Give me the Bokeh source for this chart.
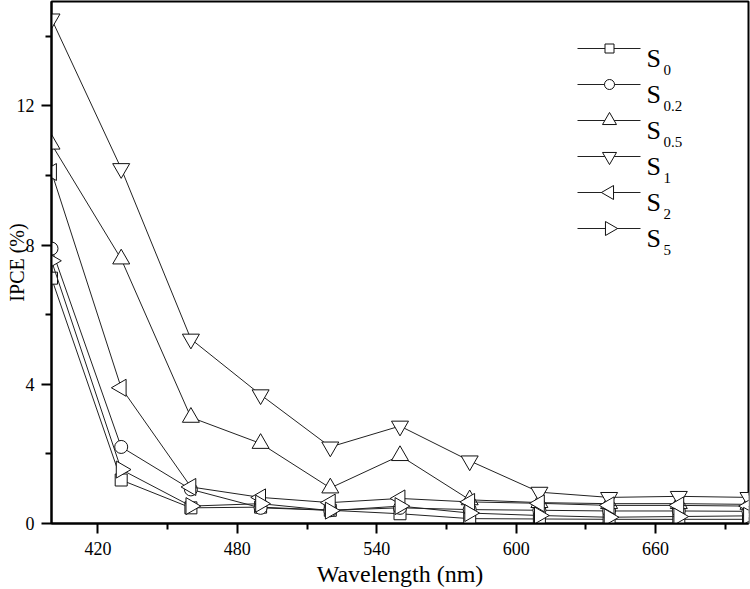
import math
from bokeh.plotting import figure
from bokeh.models import FixedTicker, Label, Range1d
from bokeh.embed import file_html
from bokeh.resources import INLINE

# ---- data ----
wavelength = [400, 430, 460, 490, 520, 550, 580, 610, 640, 670, 700]
s0   = [7.05, 1.25, 0.45, 0.47, 0.38, 0.28, 0.14, 0.13, 0.12, 0.12, 0.12]
s0_2 = [7.9, 2.2, 0.98, 0.45, 0.38, 0.45, 0.40, 0.38, 0.36, 0.36, 0.35]
s0_5 = [10.9, 7.6, 3.05, 2.3, 1.02, 1.95, 0.68, 0.60, 0.57, 0.57, 0.55]
s1   = [14.5, 10.2, 5.3, 3.7, 2.2, 2.8, 1.8, 0.90, 0.75, 0.78, 0.75]
s2   = [10.1, 3.9, 1.05, 0.75, 0.60, 0.72, 0.62, 0.58, 0.52, 0.52, 0.50]
s5   = [7.55, 1.55, 0.50, 0.57, 0.37, 0.50, 0.30, 0.23, 0.18, 0.20, 0.22]
subscripts = ["0", "0.2", "0.5", "1", "2", "5"]
series = [s0, s0_2, s0_5, s1, s2, s5]

x_ticks = [420, 480, 540, 600, 660]
x_minor = [450, 510, 570, 630, 690]
y_ticks = [0, 4, 8, 12]
y_minor = [2, 6, 10, 14]
x_title = "Wavelength (nm)"
y_title = "IPCE (%)"

FONT = "Liberation Serif"
X0, X1 = 400, 700
Y0, Y1 = 0, 15
W, H = 750, 589
ML, MR, MT, MB = 51, 2, 1, 66
FW, FH = W - ML - MR, H - MT - MB

p = figure(width=W, height=H, output_backend="svg", toolbar_location=None,
           x_range=Range1d(X0, X1), y_range=Range1d(Y0, Y1),
           min_border_left=ML, min_border_right=MR,
           min_border_top=MT, min_border_bottom=MB)
p.xgrid.visible = False
p.ygrid.visible = False
p.outline_line_color = "black"
p.outline_line_width = 2
p.background_fill_color = "white"

p.xaxis.ticker = FixedTicker(ticks=x_ticks, minor_ticks=x_minor)
p.yaxis.ticker = FixedTicker(ticks=y_ticks, minor_ticks=y_minor)
p.xaxis.axis_label = x_title
p.yaxis.axis_label = y_title
for ax in (p.xaxis, p.yaxis):
    ax.axis_line_width = 2
    ax.major_tick_line_width = 2
    ax.minor_tick_line_width = 2
    ax.major_tick_out = 10
    ax.major_tick_in = 0
    ax.minor_tick_out = 6
    ax.minor_tick_in = 0
    ax.major_label_text_font = FONT
    ax.major_label_text_font_size = "18px"
    ax.major_label_text_color = "black"
    ax.axis_label_text_font = FONT
    ax.axis_label_text_font_style = "normal"
    ax.axis_label_text_color = "black"
p.xaxis.axis_label_text_font_size = "24px"
p.yaxis.axis_label_text_font_size = "20px"
p.xaxis.major_label_standoff = 8
p.yaxis.major_label_standoff = 7
p.xaxis.axis_label_standoff = 3
p.yaxis.axis_label_standoff = -14

markers = [
    dict(marker="square", size=12, angle=0.0),
    dict(marker="circle", size=13, angle=0.0),
    dict(marker="triangle", size=17, angle=0.0),
    dict(marker="inverted_triangle", size=17, angle=0.0),
    dict(marker="triangle", size=17, angle=math.pi / 2),
    dict(marker="triangle", size=17, angle=-math.pi / 2),
]

for vals, m in zip(series, markers):
    p.line(wavelength, vals, line_color="#222222", line_width=1)
    p.scatter(wavelength, vals, marker=m["marker"], size=m["size"], angle=m["angle"],
              fill_color="white", line_color="#111111", line_width=1)

# pixel -> data helpers for legend placement inside the frame
def dx(px):
    return X0 + (px - ML) / FW * (X1 - X0)

def dy(py):
    return Y1 - (py - MT) / FH * (Y1 - Y0)

# ---- hand-built legend (sample line + marker + S with subscript) ----
for i, (sub, m) in enumerate(zip(subscripts, markers)):
    row = 48 + 36 * i
    p.line([dx(577), dx(640)], [dy(row), dy(row)], line_color="#222222", line_width=1)
    p.scatter([dx(609)], [dy(row)], marker=m["marker"], size=m["size"] - 3, angle=m["angle"],
              fill_color="white", line_color="#111111", line_width=1)
    p.add_layout(Label(x=dx(646), y=dy(row + 10), text="S", text_font=FONT,
                       text_font_size="26px", text_baseline="alphabetic",
                       text_align="left", text_color="black"))
    p.add_layout(Label(x=dx(663), y=dy(row + 21), text=sub, text_font=FONT,
                       text_font_size="15px", text_baseline="alphabetic",
                       text_align="left", text_color="black"))

open("out.html", "w").write(file_html(p, INLINE))
